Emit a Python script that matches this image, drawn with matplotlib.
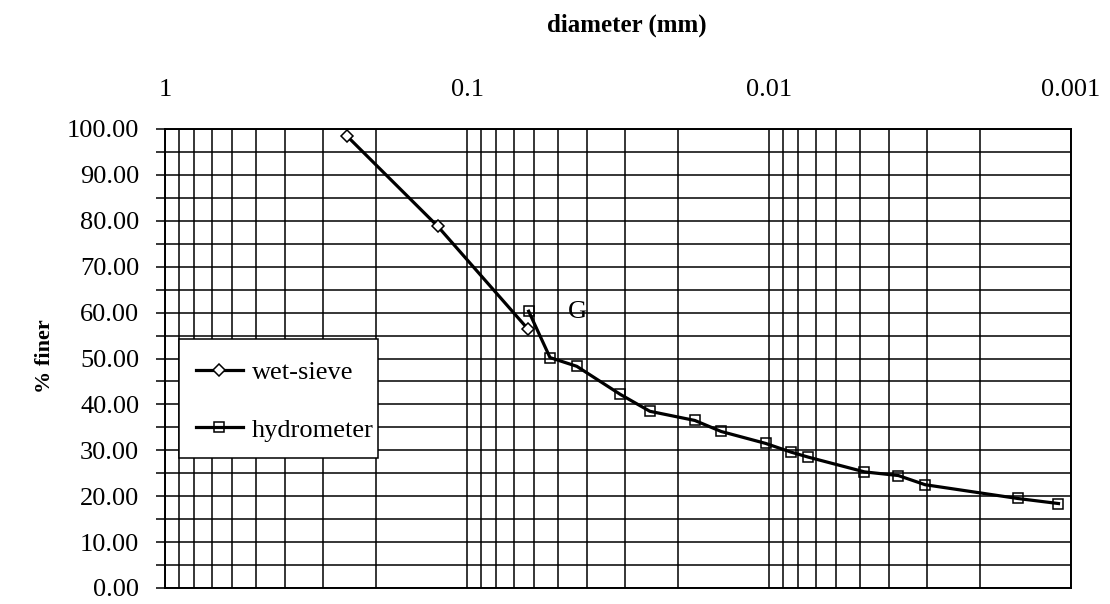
import numpy as np
import matplotlib
matplotlib.use("Agg")
import matplotlib.pyplot as plt
from matplotlib.ticker import FixedLocator, NullFormatter
from matplotlib.patches import Rectangle

plt.rcParams['font.family'] = ['Liberation Serif', 'DejaVu Serif']

# data
sieve_d = [0.25, 0.125, 0.063]
sieve_pct = [98.5, 78.8, 56.5]
hydro_d = [0.0625, 0.0531, 0.0433, 0.0311, 0.0248, 0.0176, 0.0144, 0.01026,
           0.00845, 0.0074, 0.00483, 0.00373, 0.00304, 0.0015, 0.0011]
hydro_pct = [60.3, 50.2, 48.3, 42.2, 38.5, 36.5, 34.1, 31.5,
             29.6, 28.5, 25.3, 24.5, 22.5, 19.5, 18.4]
x_ticks = [1, 0.1, 0.01, 0.001]
x_tick_labels = ['1', '0.1', '0.01', '0.001']
y_ticks = list(range(0, 101, 10))

W, H = 1110, 604
fig = plt.figure(figsize=(W/100, H/100), dpi=100)
ax_l, ax_r, ax_t, ax_b = 165, 1071, 129, 588
ax = fig.add_axes([ax_l/W, 1-ax_b/H, (ax_r-ax_l)/W, (ax_b-ax_t)/H])

ax.set_xscale('log')
ax.set_xlim(1, 0.001)
ax.set_ylim(0, 100)

# grid
minor_x = [m * 10.0**e for e in (-1, -2, -3) for m in range(2, 10)]
ax.xaxis.set_major_locator(FixedLocator(x_ticks))
ax.xaxis.set_minor_locator(FixedLocator(minor_x))
ax.xaxis.set_minor_formatter(NullFormatter())
ax.set_xticks(x_ticks)
ax.set_xticklabels(x_tick_labels)
ax.yaxis.set_major_locator(FixedLocator(y_ticks))
ax.yaxis.set_minor_locator(FixedLocator([v + 5 for v in y_ticks[:-1]]))
ax.set_yticklabels([f"{v:.2f}" for v in y_ticks])

ax.grid(True, which='both', color='black', linewidth=1.1)
ax.set_axisbelow(True)

ax.xaxis.tick_top()
ax.tick_params(axis='x', which='both', length=0, pad=20.5, labelsize=19)
ax.tick_params(axis='y', which='both', length=6.5, width=1.1, pad=12, labelsize=19,
               direction='out', color='black')
for s in ax.spines.values():
    s.set_linewidth(1.4)
    s.set_color('black')

ax.plot(sieve_d, sieve_pct, color='black', linewidth=2.3, marker='D', markersize=6,
        markerfacecolor='white', markeredgecolor='black', markeredgewidth=1.1,
        label='wet-sieve', zorder=3)
ax.plot(hydro_d, hydro_pct, color='black', linewidth=2.3, marker='s', markersize=7,
        markerfacecolor='none', markeredgecolor='black', markeredgewidth=1.1,
        label='hydrometer', zorder=3)

ax.text(0.0432, 60.2, 'G', fontsize=19, ha='center', va='center')

# legend box
aw, ah = ax_r - ax_l, ax_b - ax_t
box = Rectangle(((179-ax_l)/aw, (ax_b-458)/ah), (378-179)/aw, (458-339)/ah,
                transform=ax.transAxes, facecolor='white', edgecolor='black',
                linewidth=1.1, zorder=4)
ax.add_patch(box)
leg = ax.legend(loc='upper left', bbox_to_anchor=((196-ax_l)/aw, (ax_b-361)/ah),
                fontsize=19, frameon=False, handlelength=1.78, handletextpad=0.34,
                labelspacing=1.28, borderpad=0, borderaxespad=0)
leg.set_zorder(5)

fig.text(627/W, 1-25/H, 'diameter (mm)', fontsize=18, fontweight='bold',
         ha='center', va='center')
fig.text(45/W, 1-356/H, '% finer', fontsize=16, fontweight='bold',
         ha='center', va='center', rotation=90)

fig.savefig('out.png', dpi=100)
